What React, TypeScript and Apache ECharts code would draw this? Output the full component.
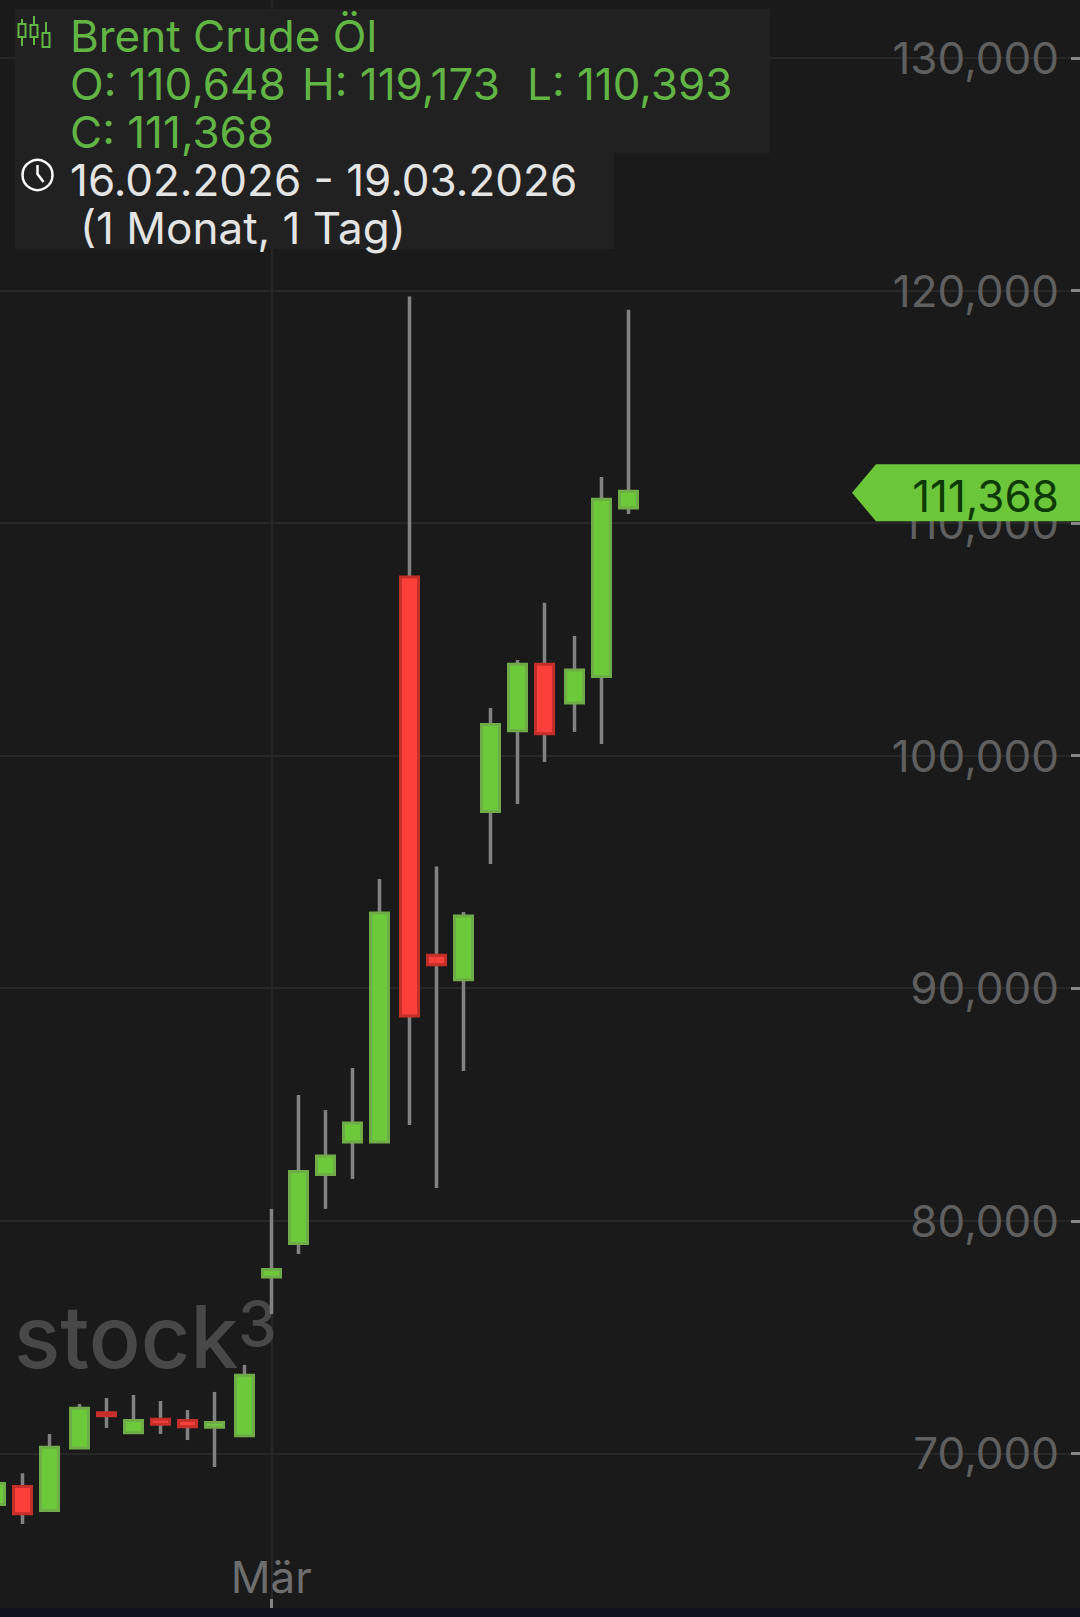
import React, { useEffect, useRef } from "react";
import * as echarts from "echarts";

const sessionsPerWeek = [3, 6, 6, 6, 3];
const opens = [67.8, 68.57, 67.54, 70.23, 71.74, 70.88, 71.46, 71.41, 71.12, 70.75, 77.58, 79.02, 81.99, 83.39, 83.39, 107.68, 91.42, 90.36, 97.6, 101.07, 103.93, 102.26, 103.4, 110.648];
const closes = [68.7, 67.4, 70.26, 71.94, 71.61, 71.41, 71.25, 71.14, 71.33, 73.36, 77.9, 82.12, 82.78, 84.2, 93.23, 88.81, 91.01, 93.1, 101.34, 103.93, 100.94, 103.68, 111.03, 111.368];
const lows = [67.7, 66.96, 67.49, 70.18, 71.09, 70.83, 70.83, 70.57, 69.41, 70.7, 75.99, 78.57, 80.51, 81.8, 83.34, 84.12, 81.41, 86.44, 95.34, 97.92, 99.73, 101.02, 100.5, 110.393];
const highs = [68.8, 69.14, 70.83, 72.12, 72.38, 72.51, 72.25, 71.86, 72.64, 73.8, 80.51, 85.41, 84.76, 86.57, 94.7, 119.74, 95.23, 93.28, 102.05, 104.11, 106.58, 105.15, 111.98, 119.173];
const yTicks = [70, 80, 90, 100, 110, 120, 130];
const monthLabel = "Mär";
const monthCandleIndex = 10;
const lastPriceLabel = "111,368";
const titleText = "Brent Crude Öl";
const ohlcTexts = ["O: 110,648", "H: 119,173", "L: 110,393", "C: 111,368"];
const rangeTexts = ["16.02.2026 - 19.03.2026", "(1 Monat, 1 Tag)"];

const FONT = "Inter, 'Noto Sans', sans-serif";
const GREEN_TEXT = "#62b545";
const BG = "#1a1a1a";
const PANEL = "#202120";
const SIZE = 44;

const weekGap = 1 / 9;
const xSlots: number[] = [];
sessionsPerWeek.forEach((count, week) => {
  for (let i = 0; i < count; i++) xSlots.push(xSlots.length + week * weekGap);
});

const wickData = xSlots.map((x, i) => [x, opens[i], closes[i], lows[i], highs[i]]);
const bodyData = xSlots.map((x, i) => [
  x,
  opens[i],
  closes[i],
  Math.min(opens[i], closes[i]),
  Math.max(opens[i], closes[i]),
]);
const xMax = 40.17;

function text(x: number, y: number, t: string, fill: string, size = SIZE, z = 21) {
  return {
    type: "text",
    x,
    y,
    z,
    silent: true,
    style: { text: t, fill, font: `400 ${size}px ${FONT}`, align: "left", verticalAlign: "middle" },
  };
}

function iconCandle(x: number, top: number, bottom: number, boxTop: number, boxBottom: number) {
  const stroke = { stroke: GREEN_TEXT, lineWidth: 2 };
  return [
    { type: "line", z: 21, shape: { x1: x, y1: top, x2: x, y2: boxTop }, style: stroke },
    { type: "line", z: 21, shape: { x1: x, y1: boxBottom, x2: x, y2: bottom }, style: stroke },
    { type: "rect", z: 21, shape: { x: x - 3.5, y: boxTop, width: 7, height: boxBottom - boxTop }, style: { ...stroke, fill: "none" } },
  ];
}

export default function App() {
  const ref = useRef<HTMLDivElement>(null);
  useEffect(() => {
    const chart = echarts.init(ref.current!, null, { renderer: "svg" });
    chart.setOption({
      animation: false,
      backgroundColor: BG,
      grid: { left: 0, right: 0, top: 0, bottom: 0 },
      tooltip: { show: false },
      xAxis: {
        type: "value",
        min: 0.174,
        max: xMax,
        axisLine: { show: false },
        axisTick: {
          show: true,
          inside: true,
          length: 9,
          lineStyle: { color: "#858585", width: 3 },
          customValues: [xSlots[monthCandleIndex]],
        },
        axisLabel: {
          inside: true,
          margin: 9,
          color: "#6e6e6e",
          fontFamily: FONT,
          fontSize: SIZE,
          customValues: [xSlots[monthCandleIndex]],
          formatter: () => monthLabel,
        },
        splitLine: { show: true, lineStyle: { color: "#272727", width: 2 } },
      },
      yAxis: {
        type: "value",
        position: "right",
        min: 63.348,
        max: 132.494,
        axisLine: { show: false },
        axisTick: {
          show: true,
          inside: true,
          length: 9,
          lineStyle: { color: "#858585", width: 3 },
          customValues: yTicks,
        },
        axisLabel: {
          inside: true,
          margin: 21,
          color: "#5f5f5f",
          fontFamily: FONT,
          fontSize: SIZE,
          padding: [6, 0, 0, 0],
          customValues: yTicks,
          formatter: (v: number) => `${v},000`,
        },
        splitLine: { show: true, lineStyle: { color: "#272727", width: 2 } },
      },
      series: [
        {
          type: "candlestick",
          name: "Docht",
          z: 3,
          silent: true,
          barWidth: 1,
          encode: { x: 0, y: [1, 2, 3, 4] },
          data: wickData,
          itemStyle: { color: "#828282", color0: "#828282", borderColor: "#828282", borderColor0: "#828282", borderWidth: 3.5 },
        },
        {
          type: "candlestick",
          name: "Brent Crude Öl",
          z: 4,
          silent: true,
          barWidth: 18,
          encode: { x: 0, y: [1, 2, 3, 4] },
          data: bodyData,
          itemStyle: { color: "#6cc93a", color0: "#fb3f3a", borderColor: "#6fab47", borderColor0: "#c43029", borderWidth: 3 },
        },
        {
          type: "custom",
          name: "Letzter Kurs",
          z: 10,
          silent: true,
          clip: false,
          encode: { x: 0, y: 1 },
          data: [[xMax, closes[closes.length - 1]]],
          renderItem: (_p: any, api: any) => {
            const pt = api.coord([api.value(0), api.value(1)]);
            const cy = pt[1] + 1.5;
            const right = pt[0];
            return {
              type: "group",
              children: [
                {
                  type: "polygon",
                  shape: {
                    points: [
                      [right - 228, cy],
                      [right - 204, cy - 28.5],
                      [right, cy - 28.5],
                      [right, cy + 28.5],
                      [right - 204, cy + 28.5],
                    ],
                  },
                  style: { fill: "#6cc63a" },
                },
                {
                  type: "text",
                  style: {
                    x: right - 21,
                    y: cy + 3,
                    text: lastPriceLabel,
                    fill: "#0d3a02",
                    font: `400 ${SIZE}px ${FONT}`,
                    align: "right",
                    verticalAlign: "middle",
                  },
                },
              ],
            };
          },
        },
      ],
      graphic: [
        { type: "text", x: 14, y: 1337, z: 1, silent: true, style: { text: "stock", fill: "#484848", font: `500 86px ${FONT}`, align: "left", verticalAlign: "middle" } },
        { type: "text", x: 238, y: 1323, z: 1, silent: true, style: { text: "3", fill: "#484848", font: `500 62px ${FONT}`, align: "left", verticalAlign: "middle" } },
        { type: "rect", z: 20, silent: true, shape: { x: 15, y: 9, width: 755, height: 144 }, style: { fill: PANEL } },
        { type: "rect", z: 20, silent: true, shape: { x: 15, y: 153, width: 599, height: 96 }, style: { fill: PANEL } },
        ...iconCandle(22, 19, 46, 24, 37),
        ...iconCandle(34, 16, 45, 25, 37),
        ...iconCandle(46, 22, 48, 33, 47),
        { type: "circle", z: 21, silent: true, shape: { cx: 37.5, cy: 175, r: 15 }, style: { fill: "none", stroke: "#ffffff", lineWidth: 2.5 } },
        { type: "polyline", z: 21, silent: true, shape: { points: [[37.5, 165], [37.5, 174], [43.5, 182]] }, style: { fill: "none", stroke: "#ffffff", lineWidth: 2.5 } },
        text(70, 36, titleText, GREEN_TEXT),
        text(70, 84, ohlcTexts[0], GREEN_TEXT),
        text(302, 84, ohlcTexts[1], GREEN_TEXT),
        text(527, 84, ohlcTexts[2], GREEN_TEXT),
        text(70, 132, ohlcTexts[3], GREEN_TEXT),
        text(70, 180, rangeTexts[0], "#e4e4e4"),
        text(80, 228, rangeTexts[1], "#e4e4e4"),
      ],
    });
    return () => chart.dispose();
  }, []);
  return (
    <div style={{ position: "absolute", left: 0, top: 0, width: 1080, height: 1617, background: "#10141a", overflow: "hidden" }}>
      <div ref={ref} style={{ width: 1080, height: 1608 }} />
    </div>
  );
}
